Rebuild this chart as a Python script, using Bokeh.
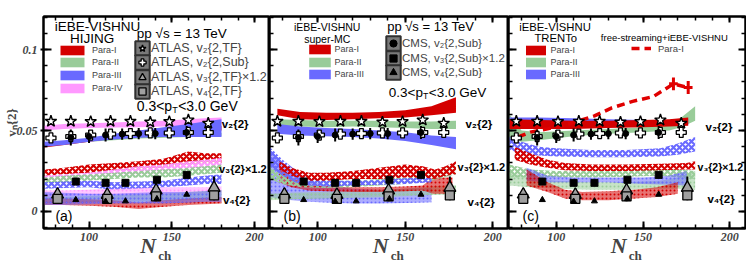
import math
from bokeh.plotting import figure
from bokeh.layouts import row
from bokeh.models import (Range1d, LinearAxis, SingleIntervalTicker, Label, Legend,
                          LegendItem, CustomJSTickFormatter)
from bokeh.embed import file_html
from bokeh.resources import INLINE

# ---------------- experimental data (same in all panels) ----------------
atlas_n = [77, 89, 101, 113, 125, 137, 148.5, 160, 172]
atlas_v2_tf = [0.0557, 0.0557, 0.0555, 0.0557, 0.0557, 0.0552, 0.0555, 0.0565, 0.0545]
atlas_v2_sub = [0.0454, 0.0463, 0.0472, 0.0478, 0.0481, 0.0485, 0.0485, 0.0488, 0.0488]
atlas_n34 = [81, 111, 140.5, 175.5]
atlas_v3_tf = [0.0105, 0.0103, 0.013, 0.0146]
atlas_v3_err = [0.004, 0.004, 0.006, 0.007]
atlas_v4_tf = [0.0078, 0.0078, 0.0093, 0.0099]
atlas_v4_err = [0.002, 0.002, 0.003, 0.003]
cms_n2 = [89, 100, 110, 120, 130, 140, 159]
cms_v2_sub = [0.0457, 0.0463, 0.0472, 0.0478, 0.0481, 0.0481, 0.0488]
cms_v2_err = [0.005, 0.004, 0.004, 0.0035, 0.0035, 0.0035, 0.004]
cms_n34 = [92, 110, 122, 141, 159]
cms_v3_sub = [0.0185, 0.0177, 0.0177, 0.0196, 0.0226]
cms_v4_sub = [0.0072, 0.0062, 0.0064, 0.0078, 0.0105]

# ---------------- panel (a): HIJING ----------------
a_n = [73, 85, 100, 115, 130, 145, 160, 170, 180]
a_v2_p1_lo = [0.0395, 0.041, 0.043, 0.045, 0.047, 0.048, 0.049, 0.0495, 0.050]
a_v2_p1_hi = [0.0415, 0.043, 0.045, 0.047, 0.049, 0.0505, 0.052, 0.0525, 0.053]
a_v2_p2_lo = [0.040, 0.0415, 0.043, 0.044, 0.045, 0.0455, 0.046, 0.046, 0.0465]
a_v2_p2_hi = [0.042, 0.0435, 0.045, 0.046, 0.047, 0.0475, 0.048, 0.048, 0.0485]
a_v2_p3_lo = [0.040, 0.041, 0.043, 0.0445, 0.0455, 0.046, 0.046, 0.046, 0.046]
a_v2_p3_hi = [0.043, 0.044, 0.0455, 0.048, 0.050, 0.052, 0.054, 0.0555, 0.057]
a_v2_p4_lo = [0.050, 0.051, 0.0515, 0.0518, 0.052, 0.0525, 0.053, 0.0535, 0.054]
a_v2_p4_hi = [0.053, 0.054, 0.0545, 0.055, 0.0555, 0.056, 0.057, 0.0575, 0.058]
a_v3_p1_lo = [0.022, 0.023, 0.024, 0.025, 0.026, 0.027, 0.029, 0.030, 0.030]
a_v3_p1_hi = [0.026, 0.027, 0.029, 0.030, 0.031, 0.0325, 0.037, 0.036, 0.036]
a_v3_p2_lo = [0.017, 0.018, 0.019, 0.020, 0.021, 0.021, 0.022, 0.023, 0.024]
a_v3_p2_hi = [0.021, 0.022, 0.023, 0.024, 0.025, 0.026, 0.027, 0.028, 0.029]
a_v3_p3_lo = [0.014, 0.0145, 0.015, 0.0135, 0.014, 0.015, 0.016, 0.017, 0.017]
a_v3_p3_hi = [0.018, 0.0185, 0.019, 0.018, 0.0185, 0.019, 0.021, 0.022, 0.023]
a_v3_p4_lo = [0.019, 0.020, 0.021, 0.022, 0.023, 0.024, 0.026, 0.027, 0.027]
a_v3_p4_hi = [0.022, 0.023, 0.024, 0.026, 0.028, 0.029, 0.031, 0.032, 0.033]
a_v4_p1_lo = [0.004, 0.004, 0.0035, 0.003, 0.0015, 0.003, 0.004, 0.0045, 0.005]
a_v4_p1_hi = [0.008, 0.008, 0.0075, 0.007, 0.0055, 0.007, 0.008, 0.0085, 0.009]
a_v4_p2_lo = [0.005, 0.005, 0.0055, 0.006, 0.006, 0.0065, 0.007, 0.0075, 0.008]
a_v4_p2_hi = [0.009, 0.009, 0.0095, 0.010, 0.0105, 0.011, 0.012, 0.0125, 0.013]
a_v4_p3_lo = [0.004, 0.004, 0.0045, 0.005, 0.005, 0.005, 0.0055, 0.006, 0.006]
a_v4_p3_hi = [0.012, 0.0115, 0.011, 0.011, 0.0115, 0.012, 0.012, 0.0125, 0.013]
a_v4_p4_lo = [0.009, 0.0095, 0.010, 0.010, 0.010, 0.0105, 0.011, 0.011, 0.0115]
a_v4_p4_hi = [0.013, 0.013, 0.0135, 0.014, 0.0145, 0.015, 0.015, 0.015, 0.0155]

# ---------------- panel (b): super-MC ----------------
b_n2 = [77, 90, 105, 120, 135, 150, 165, 179]
b_v2_p1_lo = [0.0595, 0.057, 0.0565, 0.057, 0.0575, 0.058, 0.0595, 0.061]
b_v2_p1_hi = [0.0635, 0.0615, 0.061, 0.061, 0.0615, 0.0625, 0.065, 0.0705]
b_v2_p2_lo = [0.053, 0.0525, 0.052, 0.0525, 0.052, 0.0515, 0.051, 0.051]
b_v2_p2_hi = [0.057, 0.0565, 0.056, 0.056, 0.056, 0.0555, 0.0555, 0.056]
b_v2_p3_lo = [0.048, 0.047, 0.0465, 0.046, 0.045, 0.0435, 0.041, 0.0385]
b_v2_p3_hi = [0.054, 0.0525, 0.0515, 0.051, 0.050, 0.049, 0.047, 0.046]
b_n_p3 = [72.5, 80, 87, 95, 105, 120, 135, 150, 165]
b_v3_p3_lo = [0.028, 0.022, 0.018, 0.016, 0.0155, 0.016, 0.0165, 0.017, 0.018]
b_v3_p3_hi = [0.040, 0.032, 0.026, 0.021, 0.019, 0.019, 0.0195, 0.0205, 0.021]
b_v4_p3_lo = [0.009, 0.0075, 0.0068, 0.006, 0.0055, 0.005, 0.005, 0.0052, 0.0057]
b_v4_p3_hi = [0.038, 0.030, 0.0245, 0.019, 0.0165, 0.014, 0.0135, 0.014, 0.0145]
b_n3_p1 = [78, 85, 95, 105, 120, 135, 150, 160, 167, 173, 179]
b_v3_p1_lo = [0.026, 0.022, 0.019, 0.019, 0.020, 0.020, 0.021, 0.021, 0.020, 0.022, 0.023]
b_v3_p1_hi = [0.031, 0.027, 0.024, 0.024, 0.025, 0.027, 0.029, 0.028, 0.026, 0.028, 0.031]
b_n4_p1 = [78, 85, 95, 105, 120, 135, 150, 160, 166, 170, 177]
b_v4_p1_lo = [0.018, 0.015, 0.013, 0.0125, 0.012, 0.012, 0.0125, 0.013, 0.011, 0.011, 0.011]
b_v4_p1_hi = [0.027, 0.021, 0.0165, 0.0155, 0.015, 0.015, 0.0155, 0.016, 0.021, 0.021, 0.021]
b_n3_p2 = [72.5, 80, 90, 105, 120, 135, 150, 165, 172, 179]
b_v3_p2_lo = [0.020, 0.017, 0.015, 0.0145, 0.015, 0.016, 0.017, 0.019, 0.021, 0.023]
b_v3_p2_hi = [0.030, 0.024, 0.020, 0.019, 0.019, 0.020, 0.021, 0.024, 0.027, 0.030]
b_n4_p2 = [72.5, 85, 100, 120, 140, 160, 172, 179]
b_v4_p2_lo = [0.007, 0.0075, 0.008, 0.0085, 0.009, 0.010, 0.0105, 0.011]
b_v4_p2_hi = [0.011, 0.0115, 0.012, 0.0125, 0.0135, 0.015, 0.016, 0.016]

# ---------------- panel (c): TRENTo ----------------
c_n2 = [73, 90, 110, 130, 150, 165, 176]
c_v2_p1_lo = [0.051, 0.051, 0.051, 0.0515, 0.052, 0.0525, 0.053]
c_v2_p1_hi = [0.057, 0.0565, 0.056, 0.056, 0.0565, 0.057, 0.058]
c_v2_p3_lo = [0.055, 0.055, 0.0545, 0.054, 0.0535, 0.053, 0.0535]
c_v2_p3_hi = [0.058, 0.058, 0.0575, 0.057, 0.0565, 0.0565, 0.057]
c_n2_p2 = [73, 80, 90, 110, 130, 150, 165, 172, 180]
c_v2_p2_lo = [0.045, 0.043, 0.044, 0.0465, 0.048, 0.049, 0.050, 0.052, 0.056]
c_v2_p2_hi = [0.060, 0.050, 0.049, 0.050, 0.051, 0.052, 0.054, 0.058, 0.065]
c_fs_n = [78, 85, 95, 107, 122, 132, 144, 156, 167.5, 176]
c_fs_v2 = [0.046, 0.049, 0.051, 0.054, 0.059, 0.064, 0.068, 0.071, 0.0788, 0.0765]
c_fs_err = [0, 0, 0, 0, 0, 0, 0, 0, 0.004, 0.004]
c_n3 = [73, 80, 90, 100, 120, 140, 160, 170, 180]
c_v3_p3_lo = [0.038, 0.036, 0.0345, 0.034, 0.0335, 0.0335, 0.034, 0.035, 0.037]
c_v3_p3_hi = [0.046, 0.043, 0.040, 0.039, 0.038, 0.038, 0.039, 0.042, 0.046]
c_n3_p1 = [76, 85, 95, 105, 120, 140, 160, 175, 180]
c_v3_p1_lo = [0.032, 0.029, 0.027, 0.0255, 0.025, 0.025, 0.0255, 0.026, 0.026]
c_v3_p1_hi = [0.040, 0.036, 0.032, 0.030, 0.029, 0.029, 0.0295, 0.030, 0.031]
c_n_p2 = [73, 85, 100, 120, 140, 160, 170, 180]
c_v3_p2_lo = [0.021, 0.021, 0.021, 0.021, 0.0215, 0.022, 0.021, 0.020]
c_v3_p2_hi = [0.029, 0.026, 0.025, 0.025, 0.0255, 0.026, 0.026, 0.025]
c_v4_p2_lo = [0.016, 0.015, 0.014, 0.0135, 0.0135, 0.014, 0.014, 0.0135]
c_v4_p2_hi = [0.024, 0.021, 0.019, 0.018, 0.018, 0.019, 0.021, 0.025]
c_n4_p3 = [83, 95, 110, 130, 150, 165, 175]
c_v4_p3_lo = [0.019, 0.018, 0.018, 0.018, 0.017, 0.0165, 0.016]
c_v4_p3_hi = [0.027, 0.022, 0.021, 0.021, 0.021, 0.022, 0.025]
c_n4_p1 = [83, 95, 105, 115, 130, 145, 158, 170]
c_v4_p1_lo = [0.016, 0.012, 0.008, 0.007, 0.007, 0.008, 0.009, 0.011]
c_v4_p1_hi = [0.026, 0.018, 0.0135, 0.012, 0.0125, 0.0135, 0.015, 0.018]

para_labels = ["Para-I", "Para-II", "Para-III", "Para-IV"]
x_ticks_interval = 50
y_ticks_interval = 0.05

XR = (72.5, 209.0)
YR = (-0.0105, 0.1204)
RED, GREEN, BLUE, PINK = "#d40000", "#99cc99", "#6a6aff", "#ff99ff"
SANS = "Liberation Sans"
SERIF = "Liberation Serif"
H = 268
TOP = 16
FRAME_BOTTOM = 228
NBSP = "\u00a0"


def blank():
    return CustomJSTickFormatter(code="return ''")


def make_fig(w, first=False, last=False):
    p = figure(width=w + (41 if first else 0) + (1 if last else 0), height=H,
               x_range=Range1d(*XR), y_range=Range1d(*YR),
               output_backend="svg", toolbar_location=None,
               min_border_left=41 if first else 0, min_border_right=1 if last else 0,
               min_border_top=TOP, min_border_bottom=H - FRAME_BOTTOM,
               background_fill_color="white", border_fill_color="white")
    p.grid.visible = False
    p.outline_line_color = "black"
    p.outline_line_width = 2
    xa = p.xaxis[0]
    xa.ticker = SingleIntervalTicker(interval=x_ticks_interval, num_minor_ticks=5)
    xa.major_tick_in, xa.major_tick_out = 7, 0
    xa.minor_tick_in, xa.minor_tick_out = 4, 0
    xa.axis_line_width = 2
    xa.major_tick_line_width = 2
    xa.minor_tick_line_width = 1.5
    xa.major_label_text_font = SERIF
    xa.major_label_text_font_style = "bold italic"
    xa.major_label_text_font_size = "12px"
    xa.major_label_standoff = 4
    xa.axis_label = "N" + NBSP * 3
    xa.axis_label_text_font = SERIF
    xa.axis_label_text_font_style = "bold italic"
    xa.axis_label_text_font_size = "22px"
    xa.axis_label_standoff = -11
    sub = LinearAxis(ticker=SingleIntervalTicker(interval=x_ticks_interval, num_minor_ticks=5),
                     formatter=blank(), major_label_text_font_size="0px",
                     major_label_standoff=0, major_tick_in=0, major_tick_out=0,
                     minor_tick_in=0, minor_tick_out=0, axis_line_color=None,
                     major_tick_line_color=None, minor_tick_line_color=None,
                     axis_label=NBSP * 5 + "ch", axis_label_text_font=SERIF,
                     axis_label_text_font_style="bold", axis_label_text_font_size="13px",
                     axis_label_standoff=-13)
    p.add_layout(sub, "below")
    ya = p.yaxis[0]
    ya.ticker = SingleIntervalTicker(interval=y_ticks_interval, num_minor_ticks=5)
    ya.axis_line_width = 2
    ya.major_tick_line_width = 2
    ya.minor_tick_line_width = 1.5
    ya.major_tick_in = 8
    ya.minor_tick_in, ya.minor_tick_out = 4, 0
    if first:
        ya.major_tick_out = 3
        ya.formatter = CustomJSTickFormatter(
            code="return tick.toFixed(3).replace(/0+$/,'').replace(/\\.$/,'')")
        ya.major_label_text_font = SERIF
        ya.major_label_text_font_style = "bold italic"
        ya.major_label_text_font_size = "12px"
        ya.major_label_standoff = 3
        ya.axis_label = "v\u2099{2}"
        ya.axis_label_text_font = SERIF
        ya.axis_label_text_font_style = "bold"
        ya.axis_label_text_font_size = "13px"
        ya.axis_label_standoff = -5
    else:
        ya.major_tick_out = 0
        ya.formatter = blank()
        ya.major_label_text_font_size = "0px"
        ya.major_label_standoff = 0
    top = LinearAxis(ticker=SingleIntervalTicker(interval=x_ticks_interval, num_minor_ticks=5),
                     formatter=blank(), major_label_text_font_size="0px",
                     major_label_standoff=0, major_tick_in=6, major_tick_out=0,
                     minor_tick_in=4, minor_tick_out=0, axis_line_width=2,
                     major_tick_line_width=2, minor_tick_line_width=1.5)
    p.add_layout(top, "above")
    if last:
        right = LinearAxis(ticker=SingleIntervalTicker(interval=y_ticks_interval, num_minor_ticks=5),
                           formatter=blank(), major_label_text_font_size="0px",
                           major_label_standoff=0, major_tick_in=7, major_tick_out=0,
                           minor_tick_in=4, minor_tick_out=0, axis_line_width=2,
                           major_tick_line_width=2, minor_tick_line_width=1.5)
        p.add_layout(right, "right")
    return p


def band(p, n, lo, hi, color, kind):
    if kind == "solid":
        return p.varea(x=n, y1=lo, y2=hi, fill_color=color, fill_alpha=1.0)
    if kind == "hatch":
        return p.varea(x=n, y1=lo, y2=hi, fill_color=color, fill_alpha=0.0,
                       hatch_pattern="diagonal_cross", hatch_color=color,
                       hatch_scale=6, hatch_weight=2.2)
    return p.varea(x=n, y1=lo, y2=hi, fill_color=color, fill_alpha=0.55,
                   hatch_pattern="dot", hatch_color=color, hatch_scale=4, hatch_weight=1.5)


def draw_data(p):
    r = {}
    p.segment(x0=cms_n2, x1=cms_n2,
              y0=[v - e for v, e in zip(cms_v2_sub, cms_v2_err)],
              y1=[v + e for v, e in zip(cms_v2_sub, cms_v2_err)],
              line_color="black", line_width=2)
    p.segment(x0=atlas_n34, x1=atlas_n34,
              y0=[v - e for v, e in zip(atlas_v4_tf, atlas_v4_err)],
              y1=[v + e for v, e in zip(atlas_v3_tf, atlas_v3_err)],
              line_color="black", line_width=2)
    r["star"] = p.scatter(atlas_n, atlas_v2_tf, marker="star", size=12,
                          fill_color="white", line_color="black", line_width=1.4)
    r["plus"] = p.scatter(atlas_n, atlas_v2_sub, marker="plus", size=10,
                          fill_color="white", line_color="black", line_width=1.3)
    r["cms2"] = p.scatter(cms_n2, cms_v2_sub, marker="circle", size=6,
                          fill_color="black", line_color="black")
    r["tri"] = p.scatter(atlas_n34, atlas_v3_tf, marker="triangle", size=12,
                         fill_color="#a0a0a0", line_color="black", line_width=1.3)
    r["sq"] = p.scatter(atlas_n34, atlas_v4_tf, marker="square", size=9,
                        fill_color="#a0a0a0", line_color="black", line_width=1.3)
    r["cms3"] = p.scatter(cms_n34, cms_v3_sub, marker="square", size=7,
                          fill_color="black", line_color="black")
    r["cms4"] = p.scatter(cms_n34, cms_v4_sub, marker="triangle", size=6,
                          fill_color="black", line_color="black")
    # legend frame box (hidden in the plot, used only as legend glyph)
    r["box"] = p.quad(left=atlas_n34, right=atlas_n34, bottom=atlas_v4_tf, top=atlas_v3_tf,
                      fill_color="#7a7a7a", line_color="#303030", line_width=2, visible=False)
    return r


def txt(p, x, y, s, size, style="normal", font=SANS, align="left", baseline="middle",
        xo=0, yo=0):
    p.add_layout(Label(x=x, y=y, text=s,
                       text_font_size=f"{size}px", text_font=font, text_font_style=style,
                       text_align=align, text_baseline=baseline,
                       x_offset=xo, y_offset=yo, text_color="black"))


def leg1(p, renderers, label, cx, cy, frame_left, gw, gh, fs, standoff):
    """single-entry legend whose glyph is centred on page pixel (cx, cy)"""
    lg = Legend(items=[LegendItem(label=label, renderers=renderers)],
                location=(cx - gw / 2 - frame_left, FRAME_BOTTOM - cy - gh / 2),
                glyph_width=gw, glyph_height=gh, spacing=0, padding=0, margin=0,
                border_line_color=None, background_fill_alpha=0, label_text_font=SANS,
                label_text_font_size=f"{fs}px", label_height=4, label_standoff=standoff,
                inactive_fill_alpha=0)
    p.add_layout(lg)


def common_text(p, lx, v2y, v3y, v4y, tag, v3size):
    txt(p, lx[0], v2y, "v\u2082{2}", 11.5, "bold")
    txt(p, lx[1], v3y, "v\u2083{2}\u00d71.2", v3size, "bold")
    txt(p, lx[2], v4y, "v\u2084{2}", 11.5, "bold")
    txt(p, lx[3], -0.0025, tag, 14)


def pt_text(p, x, y, fs):
    w1 = 2.53 * fs
    txt(p, x, y, "0.3<p", fs)
    txt(p, x, y, "T", fs * 0.65, xo=w1, yo=-4)
    txt(p, x, y, "<3.0 GeV", fs, xo=w1 + 0.611 * fs * 0.65 + 0.5)


# ================= panel (a) =================
FA = 41
pa = make_fig(228, first=True)
ra = {}
ra[4] = band(pa, a_n, a_v2_p4_lo, a_v2_p4_hi, PINK, "solid")
ra[2] = band(pa, a_n, a_v2_p2_lo, a_v2_p2_hi, GREEN, "solid")
ra[1] = band(pa, a_n, a_v2_p1_lo, a_v2_p1_hi, RED, "solid")
ra[3] = band(pa, a_n, a_v2_p3_lo, a_v2_p3_hi, BLUE, "solid")
band(pa, a_n, a_v3_p1_lo, a_v3_p1_hi, RED, "hatch")
band(pa, a_n, a_v3_p4_lo, a_v3_p4_hi, PINK, "hatch")
band(pa, a_n, a_v3_p2_lo, a_v3_p2_hi, GREEN, "hatch")
band(pa, a_n, a_v3_p3_lo, a_v3_p3_hi, BLUE, "hatch")
band(pa, a_n, a_v4_p4_lo, a_v4_p4_hi, PINK, "dots")
band(pa, a_n, a_v4_p2_lo, a_v4_p2_hi, GREEN, "dots")
band(pa, a_n, a_v4_p1_lo, a_v4_p1_hi, RED, "dots")
band(pa, a_n, a_v4_p3_lo, a_v4_p3_hi, BLUE, "dots")
da = draw_data(pa)
for i, cy in zip((1, 2, 3, 4), (50, 62, 75, 88)):
    leg1(pa, [ra[i]], para_labels[i - 1], 70, cy, FA, 30, 12, 9, 5)
for (lab, key), cy in zip([("ATLAS, v\u2082{2,TF}", "star"), ("ATLAS, v\u2082{2,Sub}", "plus"),
                           ("ATLAS, v\u2083{2,TF}\u00d71.2", "tri"), ("ATLAS, v\u2084{2,TF}", "sq")],
                          (48, 62.3, 76.6, 91)):
    leg1(pa, [da["box"], da[key]], lab, 140, cy, FA, 18, 18, 12.5, 0)
txt(pa, 105.1, 0.1142, "iEBE-VISHNU", 13.5, align="center")
txt(pa, 101.8, 0.1068, "HIJING", 13.5, align="center")
txt(pa, 128.8, 0.1099, "pp \u221as = 13 TeV", 13.5)
pt_text(pa, 128.8, 0.0654, 14)
common_text(pa, (180.1, 178.5, 180.9, 79.7), 0.0543, 0.0265, 0.0068, "(a)", 11)

# ================= panel (b) =================
FB = 269
pb = make_fig(239)
rb = {}
rb[1] = band(pb, b_n2, b_v2_p1_lo, b_v2_p1_hi, RED, "solid")
rb[2] = band(pb, b_n2, b_v2_p2_lo, b_v2_p2_hi, GREEN, "solid")
rb[3] = band(pb, b_n2, b_v2_p3_lo, b_v2_p3_hi, BLUE, "solid")
band(pb, b_n_p3, b_v4_p3_lo, b_v4_p3_hi, BLUE, "dots")
band(pb, b_n4_p2, b_v4_p2_lo, b_v4_p2_hi, GREEN, "dots")
band(pb, b_n4_p1, b_v4_p1_lo, b_v4_p1_hi, RED, "dots")
band(pb, b_n3_p2, b_v3_p2_lo, b_v3_p2_hi, GREEN, "hatch")
band(pb, b_n_p3, b_v3_p3_lo, b_v3_p3_hi, BLUE, "hatch")
band(pb, b_n3_p1, b_v3_p1_lo, b_v3_p1_hi, RED, "hatch")
db = draw_data(pb)
for i, cy in zip((1, 2, 3), (49, 62, 74)):
    leg1(pb, [rb[i]], para_labels[i - 1], 319, cy, FB, 27, 12, 9, 2)
for (lab, key), cy in zip([("CMS, v\u2082{2,Sub}", "cms2"), ("CMS, v\u2083{2,Sub}\u00d71.2", "cms3"),
                           ("CMS, v\u2084{2,Sub}", "cms4")], (43, 57.5, 72)):
    leg1(pb, [db["box"], db[key]], lab, 393, cy, FB, 18, 18, 11.5, 0)
txt(pb, 105.45, 0.1142, "iEBE-VISHNU", 10.5, align="center")
txt(pb, 105.45, 0.1068, "super-MC", 10.5, align="center")
txt(pb, 139.7, 0.1142, "pp \u221as = 13 TeV", 13)
pt_text(pb, 140.6, 0.0736, 13.5)
common_text(pb, (184.4, 179.9, 185.6, 80.5), 0.0543, 0.0272, 0.0056, "(b)", 11)

# ================= panel (c) =================
FC = 508
pc = make_fig(237, last=True)
rc = {}
rc[2] = band(pc, c_n2_p2, c_v2_p2_lo, c_v2_p2_hi, GREEN, "solid")
rc[3] = band(pc, c_n2, c_v2_p3_lo, c_v2_p3_hi, BLUE, "solid")
rc[1] = band(pc, c_n2, c_v2_p1_lo, c_v2_p1_hi, RED, "solid")
band(pc, c_n3, c_v3_p3_lo, c_v3_p3_hi, BLUE, "hatch")
band(pc, c_n_p2, c_v3_p2_lo, c_v3_p2_hi, GREEN, "hatch")
band(pc, c_n3_p1, c_v3_p1_lo, c_v3_p1_hi, RED, "hatch")
band(pc, c_n_p2, c_v4_p2_lo, c_v4_p2_hi, GREEN, "dots")
band(pc, c_n4_p3, c_v4_p3_lo, c_v4_p3_hi, BLUE, "dots")
band(pc, c_n4_p1, c_v4_p1_lo, c_v4_p1_hi, RED, "dots")
fs_line = pc.line(c_fs_n, c_fs_v2, line_color="#e00000", line_width=3.5, line_dash="8 5")
err_idx = [i for i, e in enumerate(c_fs_err) if e > 0]
pc.segment(x0=[c_fs_n[i] for i in err_idx], x1=[c_fs_n[i] for i in err_idx],
           y0=[c_fs_v2[i] - c_fs_err[i] for i in err_idx],
           y1=[c_fs_v2[i] + c_fs_err[i] for i in err_idx], line_color="#e00000", line_width=3)
pc.segment(x0=[c_fs_n[i] - 2.5 for i in err_idx], x1=[c_fs_n[i] + 2.5 for i in err_idx],
           y0=[c_fs_v2[i] for i in err_idx], y1=[c_fs_v2[i] for i in err_idx],
           line_color="#e00000", line_width=3)
dc = draw_data(pc)
for i, cy in zip((1, 2, 3), (50, 62, 74)):
    leg1(pc, [rc[i]], para_labels[i - 1], 535, cy, FC, 25, 12, 9, 3)
leg1(pc, [fs_line], "Para-I", 641, 48, FC, 20, 12, 9.5, 7)
txt(pc, 99.3, 0.1142, "iEBE-VISHNU", 11.3, align="center")
txt(pc, 99.7, 0.1072, "TRENTo", 11.3, align="center")
txt(pc, 125.7, 0.1076, "free-streaming+iEBE-VISHNU", 9.5)
common_text(pc, (186.0, 181.4, 187.1, 80.6), 0.0519, 0.0272, 0.008, "(c)", 10.5)

layout = row(pa, pb, pc, spacing=0)
open("out.html", "w").write(file_html(layout, INLINE))
